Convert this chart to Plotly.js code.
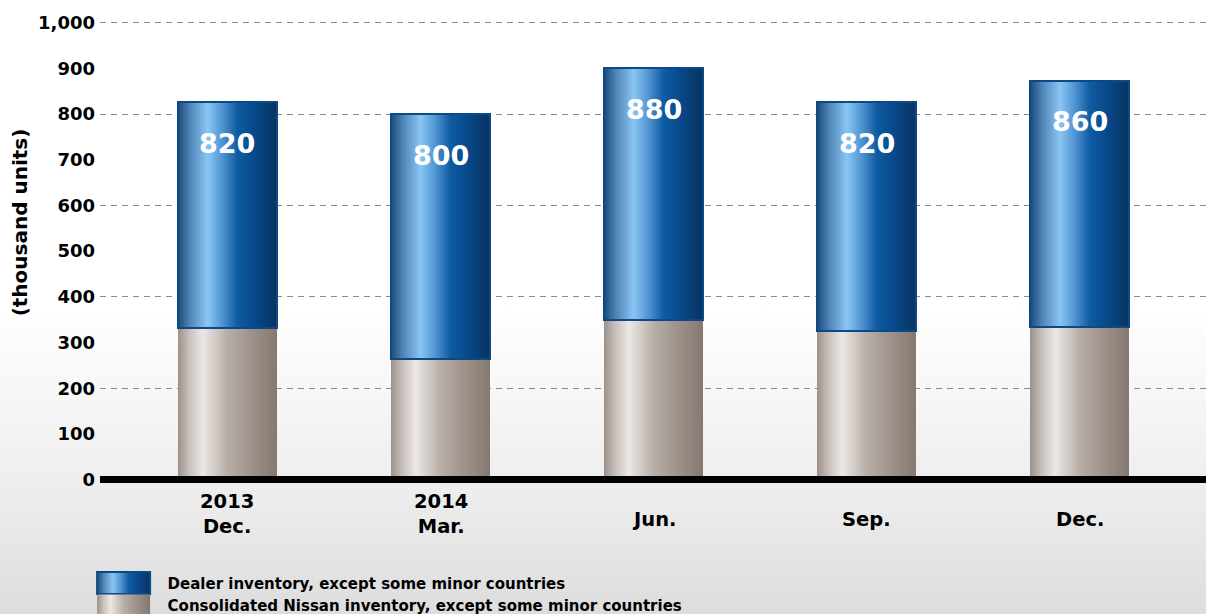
<!DOCTYPE html>
<html><head><meta charset="utf-8">
<script src="https://cdn.plot.ly/plotly-3.0.1.min.js"></script>
<style>
html,body{margin:0;padding:0;width:1206px;height:614px;overflow:hidden;
background:linear-gradient(to bottom,#ffffff 0%,#ffffff 50%,#ededed 80%,#dddddd 100%);}
#chart{width:1206px;height:614px;}
</style></head><body><div id="chart"></div>
<script>
// ---- data ----
const categoryIds = ['2013 Dec.', '2014 Mar.', '2014 Jun.', '2014 Sep.', '2014 Dec.'];
const tickLabels = ['2013<br>Dec.', '2014<br>Mar.', 'Jun.', 'Sep.', 'Dec.'];
const consolidatedInventory = [331, 263, 350, 325, 333];
const dealerInventory = [495, 537, 550, 501, 540];
const totalLabels = ['820', '800', '880', '820', '860'];
const seriesNames = ['Consolidated Nissan inventory, except some minor countries',
                     'Dealer inventory, except some minor countries'];
const yTitle = '(thousand units)';

const FONT = 'DejaVu Sans, Liberation Sans, Arial, sans-serif';
const totals = consolidatedInventory.map((v, i) => v + dealerInventory[i]);
const Y_RANGE = [-7.4, 1006];

const traces = [
  {type: 'bar', name: seriesNames[0], x: categoryIds, y: consolidatedInventory,
   marker: {color: '#b5aaa4', line: {width: 0}}, hoverinfo: 'skip'},
  {type: 'bar', name: seriesNames[1], x: categoryIds, y: dealerInventory,
   marker: {color: '#2a6db0', line: {color: '#0b4a86', width: 2}}, hoverinfo: 'skip'},
  // carrier for the dashed 200-step grid axis (draws nothing)
  {type: 'scatter', mode: 'markers', x: categoryIds, y: categoryIds.map(() => null),
   yaxis: 'y2', showlegend: false, hoverinfo: 'skip'}
];

const annotations = [];
totals.forEach((t, i) => annotations.push({
  x: categoryIds[i], y: t, xref: 'x', yref: 'y', yanchor: 'middle', yshift: -41,
  text: totalLabels[i], showarrow: false,
  font: {family: FONT, size: 27, color: '#ffffff', weight: 'bold'}
}));
tickLabels.forEach((lab, i) => annotations.push({
  x: categoryIds[i], y: -0.0717, xref: 'x', yref: 'paper', yanchor: 'middle',
  yshift: lab.indexOf('<br>') >= 0 ? 2 : -3,
  text: lab, showarrow: false, align: 'center',
  font: {family: FONT, size: 19.5, color: '#000000', weight: 'bold'}
}));
annotations.push({
  x: -0.0723, y: 0.563, xref: 'paper', yref: 'paper', xanchor: 'center', yanchor: 'middle',
  text: yTitle, textangle: -90, showarrow: false,
  font: {family: FONT, size: 20, color: '#000000', weight: 'bold'}
});

const layout = {
  width: 1206, height: 614,
  margin: {l: 100, r: 0, t: 20, b: 131, pad: 0, autoexpand: false},
  paper_bgcolor: 'rgba(0,0,0,0)', plot_bgcolor: 'rgba(0,0,0,0)',
  barmode: 'stack', bargap: 0.535,
  showlegend: true,
  xaxis: {type: 'category', range: [-0.598, 4.592], showticklabels: false, ticks: '',
          showgrid: false, zeroline: false, showline: false, fixedrange: true, automargin: false},
  yaxis: {range: Y_RANGE, tick0: 0, dtick: 100, tickformat: ',', ticks: '',
          showgrid: false, zeroline: true, zerolinecolor: '#000000', zerolinewidth: 7,
          zerolinelayer: 'above traces', ticklabelstandoff: 4, automargin: false,
          tickfont: {family: FONT, size: 18, color: '#000000', weight: 'bold'}, fixedrange: true},
  yaxis2: {overlaying: 'y', side: 'left', range: Y_RANGE, tick0: 0, dtick: 200,
           showgrid: true, gridcolor: '#8a8a8a', gridwidth: 1, griddash: '6px,5px',
           showticklabels: false, ticks: '', zeroline: false, fixedrange: true, automargin: false},
  legend: {xref: 'container', yref: 'container', x: 0.066, y: 0.077,
           xanchor: 'left', yanchor: 'top', itemwidth: 78, tracegroupgap: 0,
           traceorder: 'reversed',
           bgcolor: 'rgba(0,0,0,0)', borderwidth: 0,
           font: {family: FONT, size: 15, color: '#000000', weight: 'bold'}},
  annotations: annotations
};

function addGradient(defs, id, stops) {
  const ns = 'http://www.w3.org/2000/svg';
  const g = document.createElementNS(ns, 'linearGradient');
  g.setAttribute('id', id);
  g.setAttribute('x1', '0'); g.setAttribute('y1', '0');
  g.setAttribute('x2', '1'); g.setAttribute('y2', '0');
  stops.forEach(s => {
    const st = document.createElementNS(ns, 'stop');
    st.setAttribute('offset', s[0]);
    st.setAttribute('stop-color', s[1]);
    g.appendChild(st);
  });
  defs.appendChild(g);
}

Plotly.newPlot('chart', traces, layout, {staticPlot: true, displayModeBar: false}).then(gd => {
  const svg = gd.querySelector('svg.main-svg');
  let defs = svg.querySelector('defs');
  if (!defs) { defs = document.createElementNS('http://www.w3.org/2000/svg', 'defs'); svg.insertBefore(defs, svg.firstChild); }
  addGradient(defs, 'gradGray', [[0, '#9c908a'], [0.1, '#c4bbb6'], [0.25, '#ece8e5'], [0.5, '#b8aea8'], [0.75, '#9d918a'], [1, '#857870']]);
  addGradient(defs, 'gradBlue', [[0, '#1c4a78'], [0.12, '#4f84b6'], [0.3, '#8ac6f4'], [0.45, '#4f93d2'], [0.6, '#0f5ca2'], [0.78, '#07488a'], [1, '#0a325e']]);
  const fills = ['url(#gradGray)', 'url(#gradBlue)'];
  gd.querySelectorAll('.barlayer .trace').forEach((tr, i) => {
    tr.querySelectorAll('.point path').forEach(p => { p.style.fill = fills[i]; });
  });
  gd.querySelectorAll('.legend .traces').forEach(el => {
    const d = el.__data__;
    const t = d && d[0] && d[0].trace;
    const idx = t ? t.index : 0;
    el.querySelectorAll('.legendpoints path').forEach(p => {
      p.setAttribute('d', 'M26.5,11H-26.5V-11H26.5Z');
      p.style.fill = fills[idx];
    });
  });
});
</script></body></html>
